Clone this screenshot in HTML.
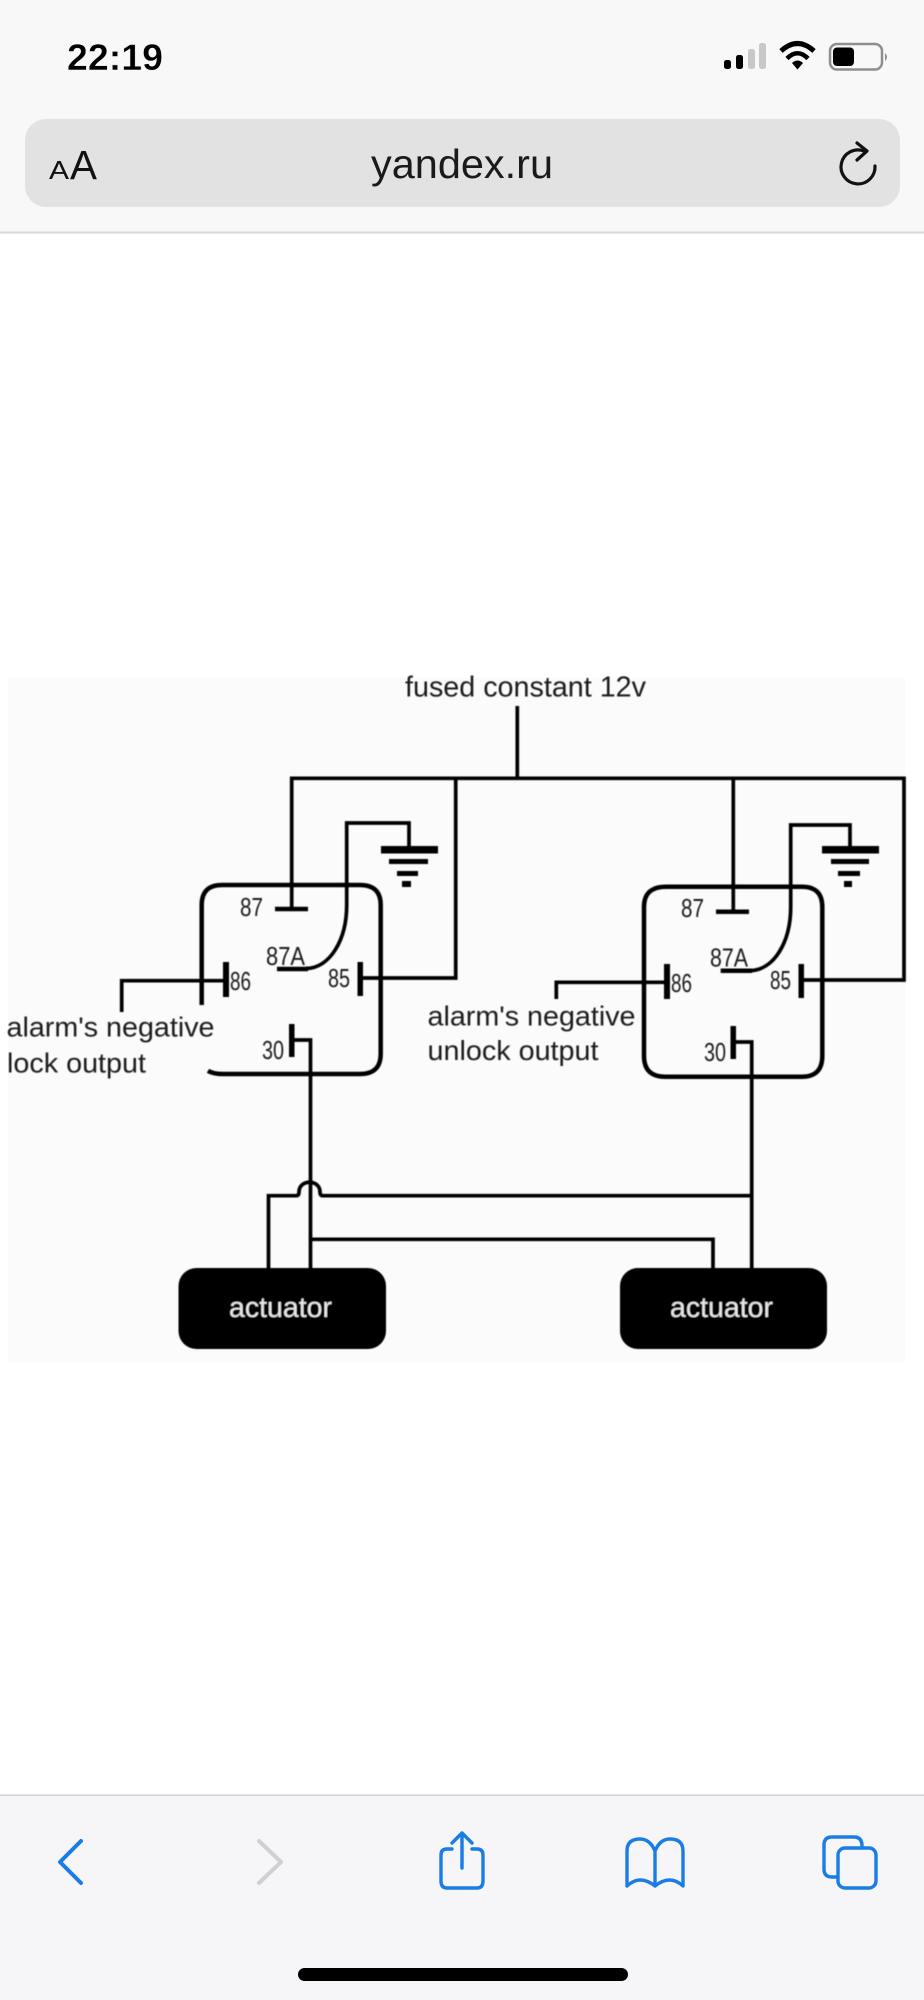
<!DOCTYPE html>
<html><head><meta charset="utf-8"><style>
html,body{margin:0;padding:0;background:#fff;width:924px;height:2000px;overflow:hidden}
svg{display:block}
text{font-family:"Liberation Sans",sans-serif}
</style></head><body>
<svg xmlns="http://www.w3.org/2000/svg" width="924" height="2000" viewBox="0 0 924 2000">
<defs><filter id="b" x="-2%" y="-2%" width="104%" height="104%"><feGaussianBlur stdDeviation="0.45"/></filter></defs>
<rect width="924" height="2000" fill="#fff"/>
<rect width="924" height="232" fill="#f8f8f8"/>
<rect y="231.500" width="924" height="2" fill="#d8d8d8"/>
<rect x="25" y="119" width="875" height="88" rx="21" fill="#e2e2e2"/>
<text x="67" y="70" font-size="37" font-weight="700" fill="#000" stroke="#f8f8f8" stroke-width="0.400" textLength="96" lengthAdjust="spacingAndGlyphs">22:19</text>
<g>
<rect x="724" y="60" width="7" height="9" rx="2.500" fill="#000"/>
<rect x="736" y="55" width="7" height="14" rx="2.500" fill="#000"/>
<rect x="748" y="49" width="7" height="20" rx="2.500" fill="#c8c8c8"/>
<rect x="759" y="43" width="7" height="26" rx="2.500" fill="#c8c8c8"/>
<path d="M781 51 Q797.500 36 814 51" fill="none" stroke="#000" stroke-width="5"/>
<path d="M787 58.500 Q797.500 48 808 58.500" fill="none" stroke="#000" stroke-width="4.500"/>
<path d="M792 63 Q797.500 58 803 63 L797.500 69.500 Z" fill="#000"/>
<rect x="830" y="44" width="52" height="25.500" rx="7" fill="none" stroke="#8e8e8e" stroke-width="2.500"/>
<rect x="833" y="47.500" width="21" height="18.500" rx="4" fill="#000"/>
<path d="M885 53 Q889 57 885 61 Z" fill="#8e8e8e"/>
</g>
<text x="49" y="179" font-size="26" fill="#111" textLength="20" lengthAdjust="spacingAndGlyphs">A</text>
<text x="70" y="179" font-size="41" fill="#111" textLength="27" lengthAdjust="spacingAndGlyphs">A</text>
<text x="371" y="178" font-size="41" fill="#1a1a1a" textLength="182" lengthAdjust="spacingAndGlyphs">yandex.ru</text>
<g fill="none" stroke="#111" stroke-width="3.200" stroke-linecap="round" stroke-linejoin="round">
<path d="M875 166 A17 17 0 1 1 864 151"/>
<path d="M857 143 L867 151 L857 160"/>
</g>

<rect x="8" y="678" width="897" height="684" fill="#fbfbfb"/>

<g filter="url(#b)">
<text x="405" y="696.500" font-size="28.500" fill="#1a1a1a" textLength="241" lengthAdjust="spacingAndGlyphs">fused constant 12v</text>

<g fill="none" stroke="#000" stroke-width="3.700">
<path d="M517.300 706 V778.300"/>
<path d="M291.700 909 V778.300 H904 V980 H801"/>
<path d="M455.700 778.300 V978 H360"/>
<path d="M733.300 778.300 V911.700"/>
<path d="M409 850 V823 H346.700 V905 C346.700 940 330 968 306 968.500"/>
<path d="M850 850 V825 H790.700 V907 C790.700 942 774 970 750 970.700"/>
<path d="M121.700 1012 V980.700 H226"/>
<path d="M556.300 999 V982.300 H667"/>
<path d="M291.700 1040 H310.500 V1268"/>
<path d="M733 1042 H751.700 V1268"/>
<path d="M268.500 1268 V1195.700 H296 Q299 1195.700 299 1192 C299 1179 320 1179 320 1192 Q320 1195.700 323 1195.700 H751.700" />
<path d="M310.500 1239.300 H713 V1268"/>
</g>
<g fill="none" stroke="#000" stroke-width="4.500">
<path d="M208 1070.700 Q213 1074 224 1074 H360 Q380.700 1074 380.700 1054 V905 Q380.700 885 360 885 H222 Q201.700 885 201.700 905 V1005"/>
<path d="M666 886.700 H802 Q822.300 886.700 822.300 907 V1056 Q822.300 1076.700 802 1076.700 H665 Q644 1076.700 644 1056 V907 Q644 886.700 666 886.700 Z"/>
<path d="M275 909 H308"/>
<path d="M716 911.700 H749"/>
<path d="M277 969 H308"/>
<path d="M720.700 970.700 H752"/>
</g>
<g fill="#000">
<rect x="223" y="962" width="6" height="35"/>
<rect x="357.500" y="962" width="5.500" height="34"/>
<rect x="289" y="1024" width="5.500" height="33"/>
<rect x="664" y="964" width="6" height="35"/>
<rect x="798.500" y="964" width="5.500" height="34"/>
<rect x="730.500" y="1026" width="5.500" height="33"/>
<rect x="381" y="846" width="57" height="7.500"/>
<rect x="389" y="859" width="39" height="5"/>
<rect x="397" y="871" width="21" height="5"/>
<rect x="402" y="881" width="9" height="6"/>
<rect x="822" y="846" width="57" height="7.500"/>
<rect x="831" y="859" width="38" height="5"/>
<rect x="838" y="871" width="22" height="5"/>
<rect x="844" y="881" width="8" height="6"/>
<rect x="178.500" y="1268" width="207.500" height="81" rx="18"/>
<rect x="620" y="1268" width="207" height="81" rx="18"/>
</g>
<g font-size="26" fill="#1a1a1a">
<text x="240" y="916" textLength="23" lengthAdjust="spacingAndGlyphs">87</text>
<text x="266" y="965" textLength="39" lengthAdjust="spacingAndGlyphs">87A</text>
<text x="230" y="990" textLength="21" lengthAdjust="spacingAndGlyphs">86</text>
<text x="328" y="987" textLength="22" lengthAdjust="spacingAndGlyphs">85</text>
<text x="262" y="1059" textLength="22" lengthAdjust="spacingAndGlyphs">30</text>
<text x="681" y="917" textLength="23" lengthAdjust="spacingAndGlyphs">87</text>
<text x="710" y="966.700" textLength="38" lengthAdjust="spacingAndGlyphs">87A</text>
<text x="671" y="992" textLength="21" lengthAdjust="spacingAndGlyphs">86</text>
<text x="770" y="989" textLength="21" lengthAdjust="spacingAndGlyphs">85</text>
<text x="704" y="1061" textLength="22" lengthAdjust="spacingAndGlyphs">30</text>
</g>
<g font-size="27.500" fill="#1a1a1a">
<text x="6.500" y="1036.700" textLength="208" lengthAdjust="spacingAndGlyphs">alarm's negative</text>
<text x="7" y="1072.700" textLength="139" lengthAdjust="spacingAndGlyphs">lock output</text>
<text x="427.500" y="1025.700" textLength="208" lengthAdjust="spacingAndGlyphs">alarm's negative</text>
<text x="427.500" y="1060" textLength="171" lengthAdjust="spacingAndGlyphs">unlock output</text>
</g>
<g font-size="28.500" fill="#e8e8e8">
<text x="229" y="1317" textLength="103" lengthAdjust="spacingAndGlyphs">actuator</text>
<text x="670" y="1317" textLength="103" lengthAdjust="spacingAndGlyphs">actuator</text>
</g>
</g>

<rect y="1795" width="924" height="205" fill="#f6f6f8"/>
<rect y="1794.500" width="924" height="1.500" fill="#d2d2d4"/>
<g fill="none" stroke-linecap="round" stroke-linejoin="round" stroke-width="3.400" stroke="#1a7ce6">
<path d="M81 1841 L60 1862 L81 1883" stroke-width="4"/>
<path d="M259 1841 L281 1862 L259 1883" stroke="#d0d0d0" stroke-width="4"/>
<path d="M452 1849 H447 Q441 1849 441 1855 V1881 Q441 1888 447 1888 H477 Q483 1888 483 1881 V1855 Q483 1849 477 1849 H472"/>
<path d="M462 1868 V1833 M452 1843 L462 1833 L472 1843"/>
<path d="M655 1851 Q650 1839 640 1839 Q627 1839 627 1851 V1886 Q640 1874 655 1886 Q670 1874 683 1886 V1851 Q683 1839 670 1839 Q660 1839 655 1851 V1886"/>
<path d="M837 1877 H832 Q824 1877 824 1869 V1845 Q824 1837 832 1837 H854 Q862 1837 862 1846"/>
<rect x="838" y="1848" width="38" height="40" rx="7"/>
</g>
<rect x="298" y="1968" width="330" height="13" rx="6.500" fill="#000"/>
</svg>
</body></html>
